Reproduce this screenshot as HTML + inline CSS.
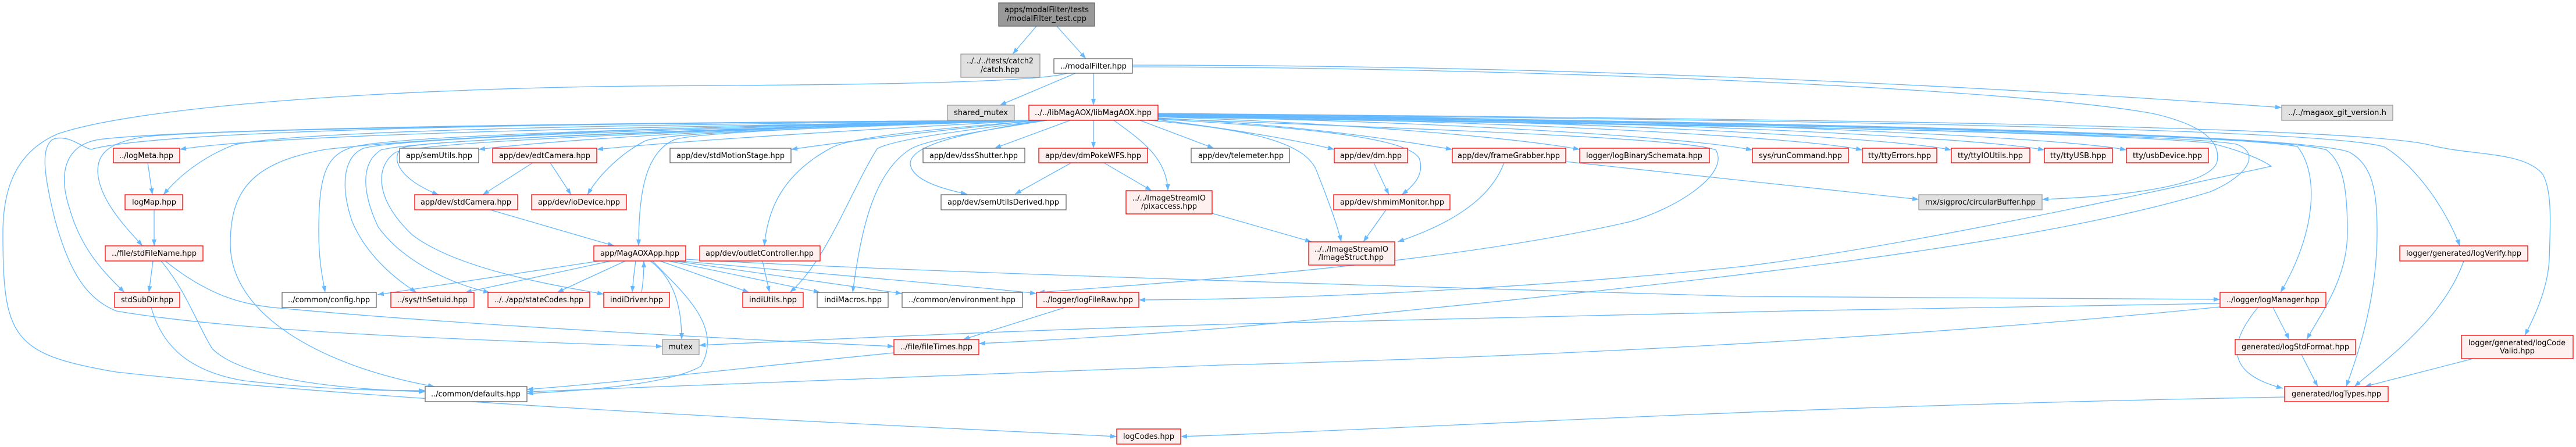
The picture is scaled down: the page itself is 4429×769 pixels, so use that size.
<!DOCTYPE html>
<html>
<head>
<meta charset="utf-8">
<style>
html,body{margin:0;padding:0;background:#fff;width:4429px;height:769px;overflow:hidden;}
svg{display:block;}
.e{fill:none;stroke:#63b8ff;stroke-width:1.3;marker-end:url(#a);}
.r{fill:#fff0f0;stroke:#ff0000;stroke-width:1.3;}
.w{fill:#ffffff;stroke:#666666;stroke-width:1.3;}
.g{fill:#e0e0e0;stroke:#999999;stroke-width:1.3;}
.k{fill:#999999;stroke:#666666;stroke-width:1.3;}
text{font-family:"DejaVu Sans","Liberation Sans",sans-serif;font-size:13px;fill:#000;text-anchor:start;}
</style>
</head>
<body>
<svg width="4429" height="769" viewBox="0 0 4429 769" xmlns="http://www.w3.org/2000/svg">
<defs>
<marker id="a" markerWidth="11" markerHeight="8" refX="11" refY="4" orient="auto" markerUnits="userSpaceOnUse">
<path d="M0,0 L11,4 L0,8 z" fill="#63b8ff"/>
</marker>
</defs>

<!-- edges -->
<g>
<path class="e" d="M1782,45 L1741,93"/>
<path class="e" d="M1817,45 L1867,101"/>
<path class="e" d="M1849,126 L1719,181"/>
<path class="e" d="M1880,126 L1880,181"/>
<path class="e" d="M1947,112 C2600,112 3300,140 3923,185"/>
<path class="e" d="M1947,115 C2600,116 3450,150 3700,195 C3790,215 3818,245 3812,278 C3800,320 3650,338 3511,343"/>
<path class="e" d="M1835,126 C1780,142 1500,146 1100,148 C700,152 250,180 100,230 C30,260 5,320 5,400 C5,580 20,610 200,640 C700,695 1500,730 1920,751"/>

<path class="e" d="M1775,207 C1300,216 500,226 309,257"/>
<path class="e" d="M1775,207 C1200,213 500,222 400,250 C350,270 310,300 281,335"/>
<path class="e" d="M1775,207 C1200,211 400,220 250,235 C185,245 168,265 168,295 C170,345 220,395 245,423"/>
<path class="e" d="M1775,207 C1200,210 350,218 170,240 C110,250 100,300 120,360 C140,430 180,470 214,503"/>
<path class="e" d="M1775,207 C1100,210 300,220 160,256 C150,262 120,228 90,240 C70,255 75,300 95,380 C120,470 150,515 200,535 C400,570 800,585 1139,596"/>
<path class="e" d="M1778,207 C1300,214 800,230 560,257 C430,280 396,330 396,420 C396,540 550,630 747,665"/>
<path class="e" d="M1778,207 C1200,218 700,232 610,252 C560,265 548,300 548,400 C548,450 555,480 559,503"/>
<path class="e" d="M1778,207 C1200,220 700,236 625,255 C590,270 585,320 605,380 C630,440 680,480 716,503"/>
<path class="e" d="M1778,207 C1200,222 720,240 655,258 C620,280 622,330 650,390 C700,460 800,495 842,503"/>
<path class="e" d="M1778,207 C1200,224 740,243 680,262 C640,290 650,350 710,405 C790,465 960,492 1038,506"/>
<path class="e" d="M1778,207 C1200,224 720,240 690,255 C670,275 690,310 754,335"/>
<path class="e" d="M1778,207 C1400,215 1000,236 823,257"/>
<path class="e" d="M1780,207 C1500,222 1200,240 1026,257"/>
<path class="e" d="M1780,207 C1400,220 1150,228 1110,242 C1070,262 1030,300 1010,335"/>
<path class="e" d="M1785,207 C1600,226 1450,244 1360,257"/>
<path class="e" d="M1785,207 C1500,216 1210,226 1160,240 C1110,262 1098,330 1098,423"/>
<path class="e" d="M1790,207 C1600,222 1460,236 1428,255 C1345,300 1320,360 1314,423"/>
<path class="e" d="M1795,207 C1650,225 1535,240 1508,256 C1462,330 1420,450 1358,503"/>
<path class="e" d="M1800,207 C1680,226 1585,242 1563,258 C1500,300 1480,400 1466,503"/>
<path class="e" d="M1791,207 C1650,230 1565,250 1565,282 C1568,310 1620,325 1663,334"/>
<path class="e" d="M1840,207 L1710,255"/>
<path class="e" d="M1880,207 L1880,255"/>
<path class="e" d="M1915,207 C1960,240 2006,270 2008,328"/>
<path class="e" d="M1960,207 L2087,255"/>
<path class="e" d="M1975,207 C2150,222 2240,245 2262,290 C2286,350 2300,390 2306,416"/>
<path class="e" d="M1991,206 C2150,226 2250,246 2294,257"/>
<path class="e" d="M1991,205 C2300,222 2420,242 2440,272 C2450,300 2430,320 2410,335"/>
<path class="e" d="M1991,203 C2250,216 2400,241 2497,257"/>
<path class="e" d="M1991,201 C2300,211 2600,236 2716,257"/>
<path class="e" d="M1991,200 C2500,210 2900,236 3013,258"/>
<path class="e" d="M1991,199 C2600,208 3100,236 3202,258"/>
<path class="e" d="M1991,198 C2700,206 3250,236 3355,258"/>
<path class="e" d="M1991,197 C2800,205 3400,236 3515,258"/>
<path class="e" d="M1991,196 C2900,204 3550,236 3656,258"/>
<path class="e" d="M1991,204 C2500,224 2900,238 2950,258 C2975,300 2880,360 2800,382 C2500,450 2100,480 1785,503"/>
<path class="e" d="M1991,201 C2700,214 3700,224 3845,248 C3885,262 3870,300 3800,330 C3500,420 3000,480 2100,565 C1900,580 1750,588 1683,591"/>
<path class="e" d="M1991,200 C2800,212 3600,226 3800,246 C3850,258 3890,275 3905,286 C3700,330 3300,420 3000,458 C2600,500 2200,515 1958,516"/>
<path class="e" d="M1991,199 C2800,210 3800,226 3950,252 C3988,300 3982,400 3921,503"/>
<path class="e" d="M1991,198 C2900,210 3900,226 4000,258 C4030,280 4036,330 4036,400 C4036,480 3990,540 3966,584"/>
<path class="e" d="M1991,197 C2900,208 3950,226 4040,262 C4080,285 4087,330 4087,400 C4087,520 4050,620 4034,665"/>
<path class="e" d="M1991,196 C3000,205 4000,220 4100,253 C4160,290 4210,370 4229,423"/>
<path class="e" d="M1991,195 C3000,204 4050,215 4180,250 C4250,268 4340,260 4372,300 C4388,330 4385,380 4383,447 C4380,500 4355,550 4341,577"/>

<path class="e" d="M254,280 L262,335"/>
<path class="e" d="M265,361 L265,423"/>
<path class="e" d="M263,449 L256,503"/>
<path class="e" d="M277,449 C320,500 340,560 365,600 C420,655 600,670 731,674"/>
<path class="e" d="M260,529 C280,600 330,640 420,655 C550,670 650,672 731,672"/>
<path class="e" d="M284,449 C360,510 420,525 480,530 C800,560 1300,585 1537,596"/>
<path class="e" d="M916,280 L830,335"/>
<path class="e" d="M946,280 L982,335"/>
<path class="e" d="M843,361 L1056,423"/>
<path class="e" d="M1842,280 L1745,334"/>
<path class="e" d="M1898,280 L1980,328"/>
<path class="e" d="M2084,367 L2255,416"/>
<path class="e" d="M2362,280 L2388,335"/>
<path class="e" d="M2383,361 L2344,416"/>
<path class="e" d="M2586,280 C2560,350 2480,390 2403,416"/>
<path class="e" d="M2692,278 C2900,300 3100,322 3299,343"/>
<path class="e" d="M1311,449 L1323,503"/>
<path class="e" d="M1831,529 L1656,584"/>
<path class="e" d="M1537,607 C1300,630 1100,655 906,670"/>
<path class="e" d="M1030,449 L649,507"/>
<path class="e" d="M1050,449 L800,503"/>
<path class="e" d="M1075,449 L958,503"/>
<path class="e" d="M1093,449 C1090,470 1088,490 1087,503"/>
<path class="e" d="M1103,503 C1106,485 1107,465 1107,449"/>
<path class="e" d="M1118,449 C1160,480 1172,530 1172,584"/>
<path class="e" d="M1122,449 C1170,500 1245,560 1205,630 C1150,662 1000,672 906,677"/>
<path class="e" d="M1135,449 L1288,503"/>
<path class="e" d="M1150,449 L1410,503"/>
<path class="e" d="M1160,449 L1551,505"/>
<path class="e" d="M1170,449 C1400,470 1700,495 1782,505"/>
<path class="e" d="M1179,446 C1600,470 2500,495 3000,510 C3400,513 3700,515 3817,515"/>
<path class="e" d="M3817,522 C3300,530 2500,545 2100,558 C1700,570 1400,585 1202,594"/>
<path class="e" d="M3817,528 C3400,570 2800,610 2100,628 C1600,645 1100,665 906,674"/>
<path class="e" d="M3908,529 L3936,584"/>
<path class="e" d="M3882,529 C3840,580 3815,640 3925,668"/>
<path class="e" d="M3957,610 L3985,665"/>
<path class="e" d="M4236,449 C4200,550 4100,620 4048,665"/>
<path class="e" d="M4252,617 L4066,665"/>
<path class="e" d="M3928,683 C3000,700 2500,735 2030,751"/>
</g>

<!-- nodes -->
<g>
<rect class="k" x="1717" y="5" width="165" height="40"/>
<text x="1727" y="21" textLength="145" lengthAdjust="spacingAndGlyphs">apps/modalFilter/tests</text>
<text x="1731" y="36" textLength="137" lengthAdjust="spacingAndGlyphs">/modalFilter_test.cpp</text>

<rect class="g" x="1652" y="93" width="136" height="40"/>
<text x="1662" y="109" textLength="115" lengthAdjust="spacingAndGlyphs">../../../tests/catch2</text>
<text x="1686" y="124" textLength="67" lengthAdjust="spacingAndGlyphs">/catch.hpp</text>

<rect class="w" x="1812" y="101" width="135" height="25"/>
<text x="1823" y="118" textLength="114" lengthAdjust="spacingAndGlyphs">../modalFilter.hpp</text>

<rect class="g" x="1629" y="181" width="115" height="26"/>
<text x="1640" y="198" textLength="93" lengthAdjust="spacingAndGlyphs">shared_mutex</text>

<rect class="r" x="1769" y="181" width="222" height="26"/>
<text x="1779" y="198" textLength="201" lengthAdjust="spacingAndGlyphs">../../libMagAOX/libMagAOX.hpp</text>

<rect class="g" x="3923" y="181" width="191" height="26"/>
<text x="3934" y="198" textLength="169" lengthAdjust="spacingAndGlyphs">../../magaox_git_version.h</text>

<!-- row D -->
<rect class="r" x="195" y="255" width="114" height="25"/>
<text x="205" y="272" textLength="93" lengthAdjust="spacingAndGlyphs">../logMeta.hpp</text>
<rect class="w" x="687" y="255" width="136" height="25"/>
<text x="698" y="272" textLength="114" lengthAdjust="spacingAndGlyphs">app/semUtils.hpp</text>
<rect class="r" x="847" y="255" width="179" height="25"/>
<text x="858" y="272" textLength="157" lengthAdjust="spacingAndGlyphs">app/dev/edtCamera.hpp</text>
<rect class="w" x="1152" y="255" width="208" height="25"/>
<text x="1163" y="272" textLength="186" lengthAdjust="spacingAndGlyphs">app/dev/stdMotionStage.hpp</text>
<rect class="w" x="1587" y="255" width="175" height="25"/>
<text x="1598" y="272" textLength="152" lengthAdjust="spacingAndGlyphs">app/dev/dssShutter.hpp</text>
<rect class="r" x="1786" y="255" width="187" height="25"/>
<text x="1797" y="272" textLength="165" lengthAdjust="spacingAndGlyphs">app/dev/dmPokeWFS.hpp</text>
<rect class="w" x="2048" y="255" width="169" height="25"/>
<text x="2060" y="272" textLength="147" lengthAdjust="spacingAndGlyphs">app/dev/telemeter.hpp</text>
<rect class="r" x="2294" y="255" width="126" height="25"/>
<text x="2304" y="272" textLength="106" lengthAdjust="spacingAndGlyphs">app/dev/dm.hpp</text>
<rect class="r" x="2497" y="255" width="195" height="25"/>
<text x="2506" y="272" textLength="176" lengthAdjust="spacingAndGlyphs">app/dev/frameGrabber.hpp</text>
<rect class="r" x="2716" y="255" width="223" height="25"/>
<text x="2727" y="272" textLength="200" lengthAdjust="spacingAndGlyphs">logger/logBinarySchemata.hpp</text>
<rect class="r" x="3013" y="255" width="165" height="25"/>
<text x="3024" y="272" textLength="143" lengthAdjust="spacingAndGlyphs">sys/runCommand.hpp</text>
<rect class="r" x="3202" y="255" width="128" height="25"/>
<text x="3212" y="272" textLength="108" lengthAdjust="spacingAndGlyphs">tty/ttyErrors.hpp</text>
<rect class="r" x="3355" y="255" width="135" height="25"/>
<text x="3366" y="272" textLength="112" lengthAdjust="spacingAndGlyphs">tty/ttyIOUtils.hpp</text>
<rect class="r" x="3515" y="255" width="117" height="25"/>
<text x="3525" y="272" textLength="96" lengthAdjust="spacingAndGlyphs">tty/ttyUSB.hpp</text>
<rect class="r" x="3656" y="255" width="141" height="25"/>
<text x="3667" y="272" textLength="119" lengthAdjust="spacingAndGlyphs">tty/usbDevice.hpp</text>

<!-- row E -->
<rect class="r" x="215" y="335" width="99" height="26"/>
<text x="227" y="352" textLength="76" lengthAdjust="spacingAndGlyphs">logMap.hpp</text>
<rect class="r" x="713" y="335" width="177" height="26"/>
<text x="723" y="352" textLength="156" lengthAdjust="spacingAndGlyphs">app/dev/stdCamera.hpp</text>
<rect class="r" x="914" y="335" width="163" height="26"/>
<text x="925" y="352" textLength="141" lengthAdjust="spacingAndGlyphs">app/dev/ioDevice.hpp</text>
<rect class="w" x="1618" y="335" width="215" height="26"/>
<text x="1629" y="352" textLength="192" lengthAdjust="spacingAndGlyphs">app/dev/semUtilsDerived.hpp</text>
<rect class="r" x="1936" y="328" width="148" height="40"/>
<text x="1947" y="345" textLength="126" lengthAdjust="spacingAndGlyphs">../../ImageStreamIO</text>
<text x="1962" y="359" textLength="96" lengthAdjust="spacingAndGlyphs">/pixaccess.hpp</text>
<rect class="r" x="2293" y="335" width="200" height="26"/>
<text x="2304" y="352" textLength="179" lengthAdjust="spacingAndGlyphs">app/dev/shmimMonitor.hpp</text>
<rect class="g" x="3299" y="335" width="212" height="26"/>
<text x="3310" y="352" textLength="190" lengthAdjust="spacingAndGlyphs">mx/sigproc/circularBuffer.hpp</text>

<!-- row F -->
<rect class="r" x="181" y="423" width="168" height="26"/>
<text x="192" y="440" textLength="146" lengthAdjust="spacingAndGlyphs">../file/stdFileName.hpp</text>
<rect class="r" x="1021" y="423" width="158" height="26"/>
<text x="1032" y="440" textLength="136" lengthAdjust="spacingAndGlyphs">app/MagAOXApp.hpp</text>
<rect class="r" x="1203" y="423" width="207" height="26"/>
<text x="1213" y="440" textLength="186" lengthAdjust="spacingAndGlyphs">app/dev/outletController.hpp</text>
<rect class="r" x="2250" y="416" width="148" height="40"/>
<text x="2260" y="433" textLength="127" lengthAdjust="spacingAndGlyphs">../../ImageStreamIO</text>
<text x="2267" y="447" textLength="112" lengthAdjust="spacingAndGlyphs">/ImageStruct.hpp</text>
<rect class="r" x="4126" y="423" width="220" height="26"/>
<text x="4137" y="440" textLength="198" lengthAdjust="spacingAndGlyphs">logger/generated/logVerify.hpp</text>

<!-- row G -->
<rect class="r" x="197" y="503" width="112" height="26"/>
<text x="208" y="520" textLength="90" lengthAdjust="spacingAndGlyphs">stdSubDir.hpp</text>
<rect class="w" x="485" y="503" width="162" height="26"/>
<text x="495" y="520" textLength="141" lengthAdjust="spacingAndGlyphs">../common/config.hpp</text>
<rect class="r" x="672" y="503" width="143" height="26"/>
<text x="683" y="520" textLength="121" lengthAdjust="spacingAndGlyphs">../sys/thSetuid.hpp</text>
<rect class="r" x="839" y="503" width="175" height="26"/>
<text x="850" y="520" textLength="153" lengthAdjust="spacingAndGlyphs">../../app/stateCodes.hpp</text>
<rect class="r" x="1038" y="503" width="113" height="26"/>
<text x="1049" y="520" textLength="91" lengthAdjust="spacingAndGlyphs">indiDriver.hpp</text>
<rect class="r" x="1277" y="503" width="104" height="26"/>
<text x="1288" y="520" textLength="82" lengthAdjust="spacingAndGlyphs">indiUtils.hpp</text>
<rect class="w" x="1405" y="503" width="122" height="26"/>
<text x="1417" y="520" textLength="99" lengthAdjust="spacingAndGlyphs">indiMacros.hpp</text>
<rect class="w" x="1551" y="503" width="207" height="26"/>
<text x="1562" y="520" textLength="184" lengthAdjust="spacingAndGlyphs">../common/environment.hpp</text>
<rect class="r" x="1782" y="503" width="176" height="26"/>
<text x="1793" y="520" textLength="155" lengthAdjust="spacingAndGlyphs">../logger/logFileRaw.hpp</text>
<rect class="r" x="3817" y="503" width="182" height="26"/>
<text x="3828" y="520" textLength="160" lengthAdjust="spacingAndGlyphs">../logger/logManager.hpp</text>

<!-- row H -->
<rect class="g" x="1139" y="584" width="63" height="26"/>
<text x="1149" y="601" textLength="42" lengthAdjust="spacingAndGlyphs">mutex</text>
<rect class="r" x="1537" y="584" width="146" height="26"/>
<text x="1548" y="601" textLength="124" lengthAdjust="spacingAndGlyphs">../file/fileTimes.hpp</text>
<rect class="r" x="3843" y="584" width="207" height="26"/>
<text x="3854" y="601" textLength="185" lengthAdjust="spacingAndGlyphs">generated/logStdFormat.hpp</text>
<rect class="r" x="4232" y="577" width="192" height="40"/>
<text x="4244" y="594" textLength="167" lengthAdjust="spacingAndGlyphs">logger/generated/logCode</text>
<text x="4298" y="608" textLength="60" lengthAdjust="spacingAndGlyphs">Valid.hpp</text>

<!-- row I -->
<rect class="w" x="731" y="665" width="175" height="26"/>
<text x="741" y="682" textLength="154" lengthAdjust="spacingAndGlyphs">../common/defaults.hpp</text>
<rect class="r" x="3928" y="665" width="178" height="26"/>
<text x="3940" y="682" textLength="154" lengthAdjust="spacingAndGlyphs">generated/logTypes.hpp</text>

<!-- row J -->
<rect class="r" x="1920" y="738" width="110" height="26"/>
<text x="1931" y="755" textLength="88" lengthAdjust="spacingAndGlyphs">logCodes.hpp</text>
</g>
</svg>
</body>
</html>
